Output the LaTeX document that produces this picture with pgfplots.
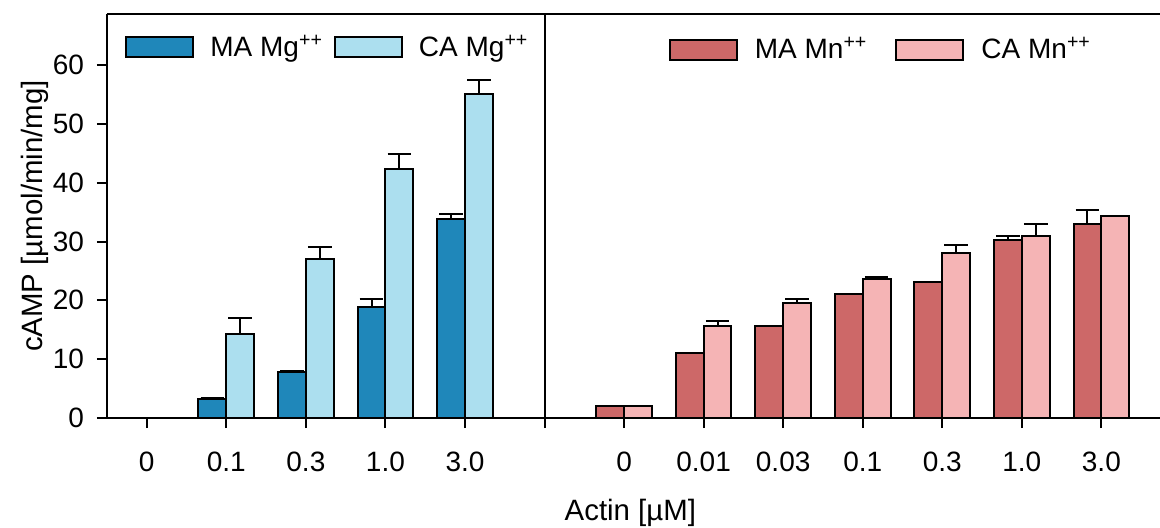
\documentclass[border=0pt]{standalone}
\usepackage{fontspec}
\setmainfont{Liberation Sans}
\usepackage{pgfplots}
\usepackage{pgfplotstable}
\pgfplotsset{compat=1.18}

\definecolor{maMg}{HTML}{1F87BA}
\definecolor{caMg}{HTML}{ACDFEF}
\definecolor{maMn}{HTML}{CD6868}
\definecolor{caMn}{HTML}{F5B4B5}
\newcommand{\fs}{\fontsize{14}{16.8}\selectfont}
\newcommand{\fl}{\fontsize{14.7}{17.6}\selectfont}

% x: 0-4 = Mg panel, 6-12 = Mn panel; e = upper error
\pgfplotstableread{
x y e
1 3.3 0.1
2 7.9 0.1
3 18.9 1.4
4 33.9 0.8
}\maMgdata
\pgfplotstableread{
x y e
1 14.35 2.7
2 27.0 2.1
3 42.3 2.6
4 55.0 2.5
}\caMgdata
\pgfplotstableread{
x y e
6 2.1 0
7 11.0 0.1
8 15.6 0.1
9 21.0 0.15
10 23.2 0
11 30.25 0.75
12 33.0 2.3
}\maMndata
\pgfplotstableread{
x y e
6 2.1 0
7 15.6 0.95
8 19.5 0.75
9 23.7 0.25
10 28.1 1.3
11 31.0 1.9
12 34.3 0.1
}\caMndata

\pgfplotsset{
  common/.style={
    scale only axis, width=526.5pt, height=202pt,
    at={(0,0)}, anchor=south west,
    xmin=-0.5, xmax=12.737, ymin=0, ymax=68.67,
  },
  bars/.style={
    ybar, bar width=0.35, bar shift=0, draw=black, line width=1pt,
    error bars/y dir=plus, error bars/y explicit,
    error bars/error bar style={line width=1pt, black},
    error bars/error mark options={rotate=90, line width=1pt, mark size=5.9pt, black},
    legend image code/.code={\draw[##1, line width=1pt] (0pt,-5pt) rectangle (33.5pt,5pt);},
  },
}

\begin{document}
\begin{tikzpicture}
\useasboundingbox (-53.5pt,-54.5pt) rectangle (526.5pt,209pt);
\begin{axis}[common,
  axis x line*=box, axis y line*=left,
  tick align=outside, xtick pos=left, ytick pos=left,
  major tick length=5pt,
  tick style={black, line width=1pt},
  axis line style={line width=1pt},
  xtick={0,...,12},
  xticklabels={0,0.1,0.3,1.0,3.0,,0,0.01,0.03,0.1,0.3,1.0,3.0},
  ytick={0,10,...,60},
  xticklabel style={font=\fs, yshift=-8.5pt},
  yticklabel style={font=\fs, xshift=-3pt},
  /pgf/number format/assume math mode=true,
  xlabel={Actin [µM]}, ylabel={cAMP [µmol/min/mg]},
  label style={font=\fl},
  xlabel style={at={(axis description cs:0.497,-0.2525)}, anchor=base},
  ylabel style={at={(axis description cs:-0.0608,0.5)}, anchor=base},
  legend columns=2,
  legend style={at={(axis description cs:0.0171,0.918)}, anchor=west,
    draw=none, fill=none, font=\fs, inner sep=0pt,
    nodes={inner sep=0pt},
    /tikz/every odd column/.append style={column sep=8pt},
    /tikz/every even column/.append style={column sep=5.5pt}},
]
\addplot[bars, fill=maMg] table[x expr=\thisrow{x}-0.175, y=y, y error=e] {\maMgdata};
\addlegendentry{MA Mg\textsuperscript{++}}
\addplot[bars, fill=caMg] table[x expr=\thisrow{x}+0.175, y=y, y error=e] {\caMgdata};
\addlegendentry{CA Mg\textsuperscript{++}}
\draw[line width=1pt] (axis cs:5,0) -- (axis cs:5,68.67);
\end{axis}
\begin{axis}[common, hide axis,
  legend columns=2,
  legend style={at={(axis description cs:0.5332,0.912)}, anchor=west,
    draw=none, fill=none, font=\fs, inner sep=0pt,
    nodes={inner sep=0pt},
    /tikz/every odd column/.append style={column sep=8.5pt},
    /tikz/every even column/.append style={column sep=14pt}},
]
\addplot[bars, fill=maMn] table[x expr=\thisrow{x}-0.175, y=y, y error=e] {\maMndata};
\addlegendentry{MA Mn\textsuperscript{++}}
\addplot[bars, fill=caMn] table[x expr=\thisrow{x}+0.175, y=y, y error=e] {\caMndata};
\addlegendentry{CA Mn\textsuperscript{++}}
\end{axis}
\end{tikzpicture}
\end{document}
